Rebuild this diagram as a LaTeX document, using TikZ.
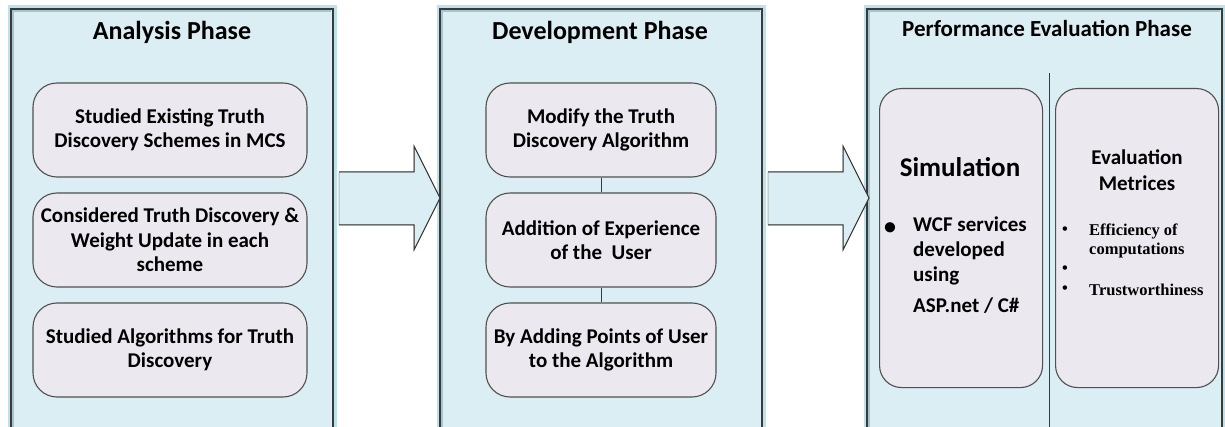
\documentclass[tikz,border=0pt]{standalone}
\usepackage{fontspec}
\setmainfont{Carlito}
\newfontfamily\metricfont{Liberation Serif}
\definecolor{panelblue}{HTML}{DAEEF3}
\definecolor{glowblue}{HTML}{BCE2EC}
\definecolor{innershade}{HTML}{A8C3CB}
\definecolor{boxfill}{HTML}{EBE8EF}
\definecolor{edgegray}{HTML}{3A3A3A}
\definecolor{boxedge}{HTML}{505050}
\begin{document}
\begin{tikzpicture}[x=1pt,y=-1pt,
  panel/.style={draw=edgegray, line width=1.3pt, fill=panelblue,
    preaction={draw=glowblue, line width=7pt},
    inner sep=0pt, outer sep=0pt, anchor=north west},
  phasetitle/.style={font=\bfseries\fontsize{26}{30}\selectfont, inner sep=0pt},
  stepbox/.style={draw=boxedge, line width=1.1pt, fill=boxfill,
    rounded corners=24pt, inner sep=0pt, minimum width=274pt, minimum height=94pt,
    align=center, font=\bfseries\fontsize{21}{24.5}\selectfont},
  devbox/.style={stepbox, minimum width=230pt},
  tallbox/.style={draw=boxedge, line width=1.1pt, fill=boxfill,
    rounded corners=22pt, inner sep=0pt, minimum width=163pt, minimum height=299pt,
    anchor=north west},
  flowarrow/.style={fill=panelblue},
  flowedge/.style={draw=edgegray, line width=1pt, line join=miter},
  link/.style={draw=edgegray, line width=1pt},
  simtext/.style={font=\bfseries\fontsize{21}{25}\selectfont, inner sep=0pt},
  metrictext/.style={font=\metricfont\bfseries\fontsize{16.5}{19}\selectfont, inner sep=0pt}
]
\useasboundingbox (0,0) rectangle (1225,427);
\clip (0,0) rectangle (1225,427);

% three phase panels, running past the lower edge
\node[panel, minimum width=322pt, minimum height=430pt] (p1) at (11,9) {};
\node[panel, minimum width=322pt, minimum height=430pt] (p2) at (440,9) {};
\node[panel, minimum width=355pt, minimum height=430pt] (p3) at (867,9) {};
\foreach \p in {p1,p2,p3}{
  \draw[innershade, line width=1.4pt]
    ([shift={(2pt,2pt)}]\p.south west) -- ([shift={(2pt,-2pt)}]\p.north west)
    -- ([shift={(-2pt,-2pt)}]\p.north east);
}

% phase titles
\node[phasetitle] (t1) at (172,32) {Analysis Phase};
\node[phasetitle] (t2) at (600,32) {Development Phase};
\node[phasetitle, font=\bfseries\fontsize{23}{27}\selectfont] (t3) at (1047,29) {Performance Evaluation Phase};

% analysis steps
\node[stepbox] (a1) at (170,130) {Studied Existing Truth\\Discovery Schemes in MCS};
\node[stepbox] (a2) at (170,240) {Considered Truth Discovery \&\\Weight Update in each\\scheme};
\node[stepbox] (a3) at (170,350) {Studied Algorithms for Truth\\Discovery};

% development steps
\node[devbox] (d1) at (601,130) {Modify the Truth\\Discovery Algorithm};
\node[devbox] (d2) at (601,240) {Addition of Experience\\of the\ \ User};
\node[devbox] (d3) at (601,350) {By Adding Points of User\\to the Algorithm};
\draw[link] (d1.south) -- (d2.north);
\draw[link] (d2.south) -- (d3.north);

% block arrows between the phases
\filldraw[flowarrow] (339,172) -- (414,172) -- (414,146) -- (440,198) -- (414,250) -- (414,225) -- (339,225) -- cycle;
\draw[flowedge] (339,172) -- (414,172) -- (414,146) -- (440,198) -- (414,250) -- (414,225) -- (339,225);
\filldraw[flowarrow] (768,172) -- (843,172) -- (843,146) -- (869,198) -- (843,250) -- (843,225) -- (768,225) -- cycle;
\draw[flowedge] (768,172) -- (843,172) -- (843,146) -- (869,198) -- (843,250) -- (843,225) -- (768,225);

% performance evaluation: divider and the two columns
\coordinate (divtop) at (1049,73);
\coordinate (divbot) at (1049,430);
\draw[link] (divtop) -- (divbot);
\node[tallbox] (sim) at (879,88) {};
\node[tallbox] (eval) at (1055,88) {};

\node[simtext, font=\bfseries\fontsize{27}{31}\selectfont] (simt) at (960,167) {Simulation};
\node[simtext, font=\bfseries\fontsize{24}{25}\selectfont] (simb) at (890,229) {\textbullet};
\node[simtext, anchor=north west, align=left] (siml) at (913,217)
  {WCF services\\developed\\using\\[6pt]ASP.net / C\#};

\node[simtext, align=center, font=\bfseries\fontsize{21}{26}\selectfont] (evt) at (1137,170) {Evaluation\\Metrices};
\node[metrictext] (eb1) at (1065,231) {\textbullet};
\node[metrictext] (eb2) at (1065,270) {\textbullet};
\node[metrictext] (eb3) at (1065,290) {\textbullet};
\node[metrictext, anchor=west, align=left] (em1) at (1089,240.5) {Efficiency of\\computations};
\node[metrictext, anchor=west] (em2) at (1089,290) {Trustworthiness};
\end{tikzpicture}
\end{document}
